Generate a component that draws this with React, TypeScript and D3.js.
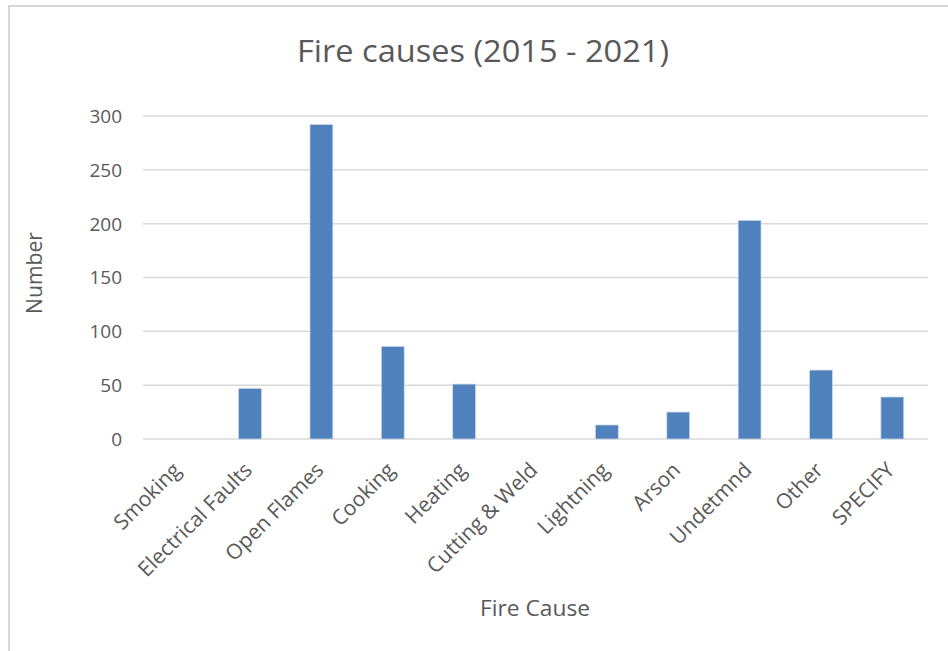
import React from "react";
import * as d3 from "d3";

// Fire causes, number of incidents 2015–2021
const causes = [
  "Smoking",
  "Electrical Faults",
  "Open Flames",
  "Cooking",
  "Heating",
  "Cutting & Weld",
  "Lightning",
  "Arson",
  "Undetmnd",
  "Other",
  "SPECIFY",
];
const counts = [0, 47, 292, 86, 51, 0, 13, 25, 203, 64, 39];
const yTicks = [0, 50, 100, 150, 200, 250, 300];

const W = 948;
const H = 651;
const FONT = "'Open Sans', 'Noto Sans', sans-serif";
const TEXT = "#595959";
const GRID = "#d9d9d9";
const BAR = "#4f81bd";

export default function App() {
  const x = d3
    .scaleBand<string>()
    .domain(causes)
    .range([143, 928])
    .paddingInner(0.68)
    .paddingOuter(0.34);
  const y = d3.scaleLinear().domain([0, 300]).range([439, 116]);

  return (
    <svg
      width={W}
      height={H}
      style={{ position: "absolute", left: 0, top: 0, background: "#fff" }}
      fontFamily={FONT}
    >
      {/* chart area frame */}
      <rect x={9} y={6} width={W + 20} height={H + 20} fill="#fff" stroke={GRID} strokeWidth={2} />

      <text
        x={483}
        y={62}
        textAnchor="middle"
        fontSize={31}
        fill={TEXT}
        textLength={372}
        lengthAdjust="spacingAndGlyphs"
      >
        Fire causes (2015 - 2021)
      </text>

      {/* horizontal gridlines and y tick labels */}
      {yTicks.map((t) => (
        <g key={t}>
          <line x1={143} x2={928} y1={y(t)} y2={y(t)} stroke={GRID} strokeWidth={1.5} />
          <text x={122} y={y(t)} dy="0.36em" textAnchor="end" fontSize={19} fill={TEXT}>
            {t}
          </text>
        </g>
      ))}

      {/* bars */}
      {causes.map((c, i) => (
        <rect
          key={c}
          x={x(c)!}
          y={y(counts[i])}
          width={x.bandwidth()}
          height={y(0) - y(counts[i])}
          fill={BAR}
          stroke="#c9d6ea"
          strokeWidth={counts[i] > 0 ? 0.75 : 0}
        />
      ))}

      {/* rotated category labels */}
      {causes.map((c) => {
        const cx = x(c)! + x.bandwidth() / 2;
        return (
          <text
            key={c}
            transform={`translate(${cx - 7},${461}) rotate(-45)`}
            textAnchor="end"
            dy="0.7em"
            fontSize={21}
            fill={TEXT}
          >
            {c}
          </text>
        );
      })}

      <text
        transform="translate(42,273) rotate(-90)"
        textAnchor="middle"
        fontSize={22}
        fill={TEXT}
        textLength={82}
        lengthAdjust="spacingAndGlyphs"
      >
        Number
      </text>

      <text
        x={535}
        y={616}
        textAnchor="middle"
        fontSize={22}
        fill={TEXT}
        textLength={110}
        lengthAdjust="spacingAndGlyphs"
      >
        Fire Cause
      </text>
    </svg>
  );
}
